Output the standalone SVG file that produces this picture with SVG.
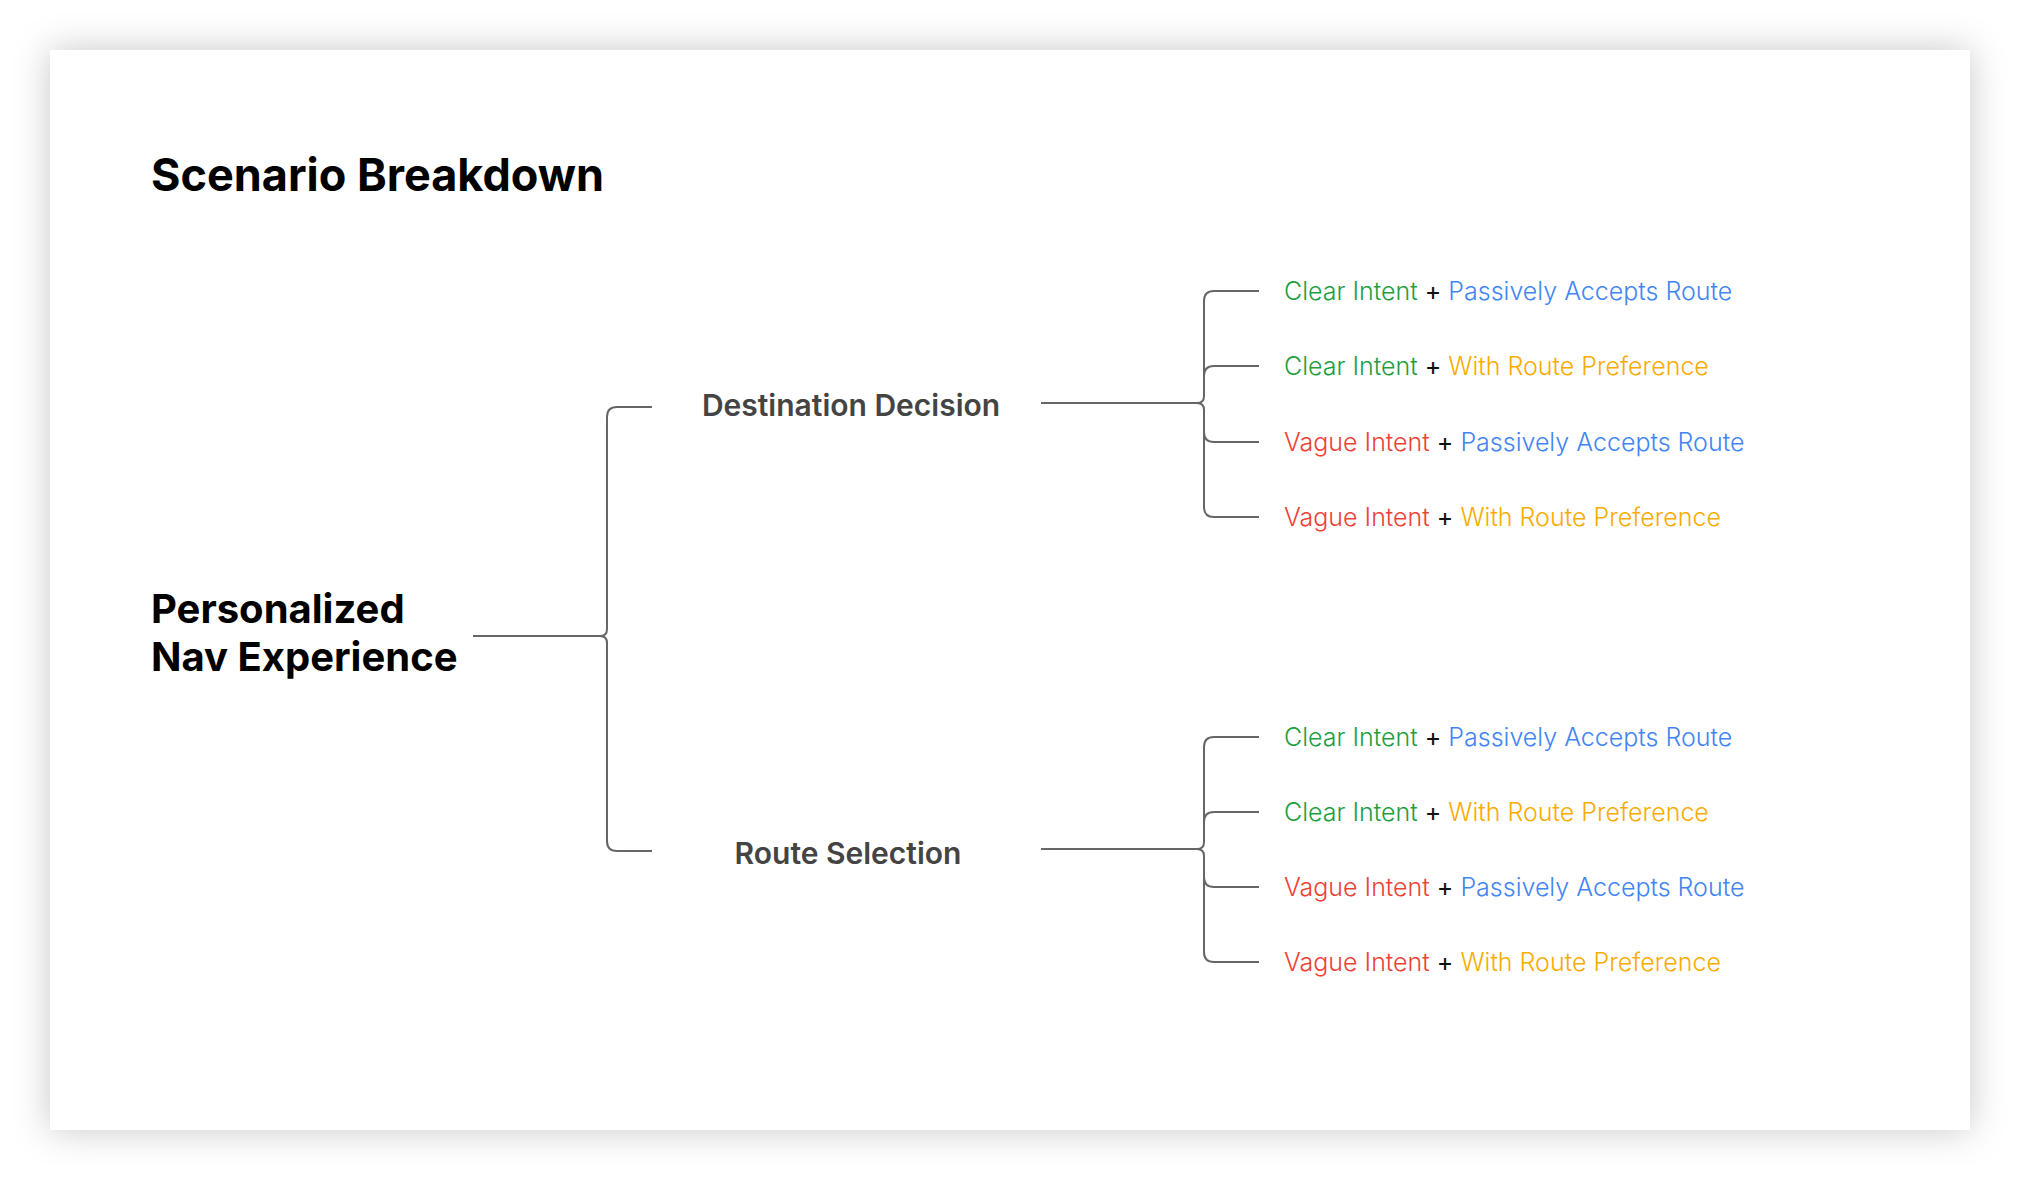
<svg xmlns="http://www.w3.org/2000/svg" width="2020" height="1180" viewBox="0 0 2020 1180">
  <defs>
    <filter id="shadow" x="-10%" y="-10%" width="120%" height="120%">
      <feDropShadow dx="0" dy="0" stdDeviation="18" flood-color="#000" flood-opacity="0.22"/>
    </filter>
    <style>
      .title { font-family: Inter, "Liberation Sans", sans-serif; font-weight: 700; font-size: 45px; fill: #000; }
      .root { font-family: Inter, "Liberation Sans", sans-serif; font-weight: 700; font-size: 40px; fill: #000; }
      .mid { font-family: Inter, "Liberation Sans", sans-serif; font-weight: 600; font-size: 30px; fill: #444; text-anchor: middle; }
      .leaf { font-family: Inter, "Liberation Sans", sans-serif; font-weight: 300; font-size: 25px; }
      .g { fill: #1E9E3E; }
      .b { fill: #4285F4; }
      .r { fill: #EA4335; }
      .y { fill: #F9AB00; }
      .k { fill: #111; font-weight: 400; }
      .conn path { fill: none; stroke: #666; stroke-width: 2; }
    </style>
  </defs>
  <rect width="2020" height="1180" fill="#fff"/>
  <rect x="50" y="50" width="1920" height="1080" fill="#fff" filter="url(#shadow)"/>

  <g id="title"><text class="title" x="151" y="191">Scenario Breakdown</text></g>

  <g id="connectors" class="conn">
    <!-- root bracket -->
    <path d="M473,636 H600 Q607,636 607,629 V417 Q607,407 617,407 H652"/>
    <path d="M600,636 Q607,636 607,643 V841 Q607,851 617,851 H652"/>
    <!-- destination group -->
    <path d="M1041,403 H1197 Q1204,403 1204,396 V301 Q1204,291 1214,291 H1259"/>
    <path d="M1204,376 Q1204,366 1214,366 H1259"/>
    <path d="M1197,403 Q1204,403 1204,410 V507 Q1204,517 1214,517 H1259"/>
    <path d="M1204,432 Q1204,442 1214,442 H1259"/>
    <!-- route group -->
    <path d="M1041,849 H1197 Q1204,849 1204,842 V747 Q1204,737 1214,737 H1259"/>
    <path d="M1204,822 Q1204,812 1214,812 H1259"/>
    <path d="M1197,849 Q1204,849 1204,856 V952 Q1204,962 1214,962 H1259"/>
    <path d="M1204,877 Q1204,887 1214,887 H1259"/>
  </g>

  <g id="root"><text class="root" x="151" y="623">Personalized</text><text class="root" x="151" y="671">Nav Experience</text></g>

  <g id="destination"><text class="mid" x="851" y="416">Destination Decision</text></g>
  <g id="route"><text class="mid" x="848" y="864">Route Selection</text></g>

  <g id="d1"><text class="leaf" x="1284" y="300"><tspan class="g">Clear Intent</tspan><tspan class="k"> + </tspan><tspan class="b">Passively Accepts Route</tspan></text></g>
  <g id="d2"><text class="leaf" x="1284" y="375"><tspan class="g">Clear Intent</tspan><tspan class="k"> + </tspan><tspan class="y">With Route Preference</tspan></text></g>
  <g id="d3"><text class="leaf" x="1284" y="451"><tspan class="r">Vague Intent</tspan><tspan class="k"> + </tspan><tspan class="b">Passively Accepts Route</tspan></text></g>
  <g id="d4"><text class="leaf" x="1284" y="526"><tspan class="r">Vague Intent</tspan><tspan class="k"> + </tspan><tspan class="y">With Route Preference</tspan></text></g>

  <g id="r1"><text class="leaf" x="1284" y="746"><tspan class="g">Clear Intent</tspan><tspan class="k"> + </tspan><tspan class="b">Passively Accepts Route</tspan></text></g>
  <g id="r2"><text class="leaf" x="1284" y="821"><tspan class="g">Clear Intent</tspan><tspan class="k"> + </tspan><tspan class="y">With Route Preference</tspan></text></g>
  <g id="r3"><text class="leaf" x="1284" y="896"><tspan class="r">Vague Intent</tspan><tspan class="k"> + </tspan><tspan class="b">Passively Accepts Route</tspan></text></g>
  <g id="r4"><text class="leaf" x="1284" y="971"><tspan class="r">Vague Intent</tspan><tspan class="k"> + </tspan><tspan class="y">With Route Preference</tspan></text></g>
</svg>
